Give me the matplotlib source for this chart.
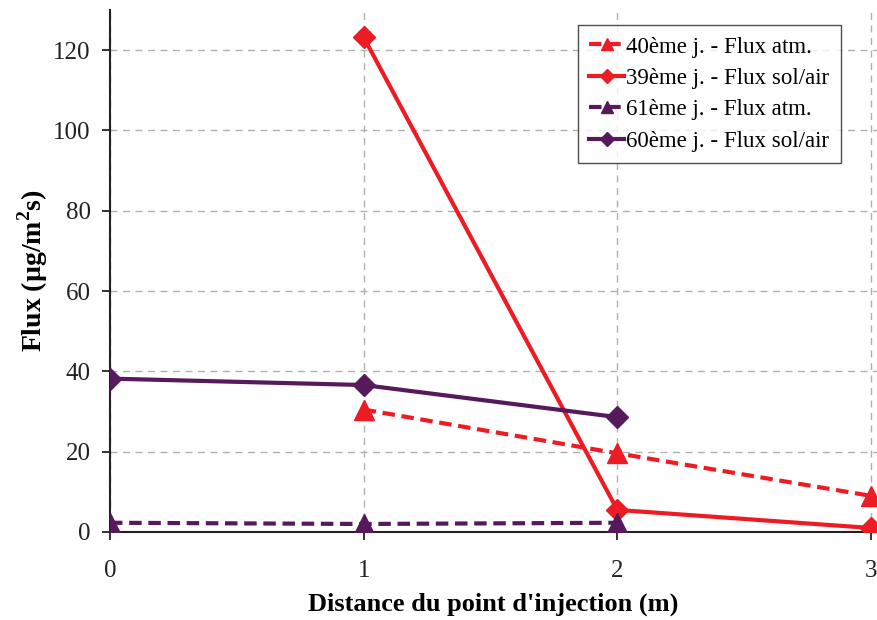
import matplotlib
matplotlib.use("Agg")
import matplotlib.pyplot as plt

plt.rcParams['font.family'] = ['Liberation Serif', 'DejaVu Serif']
plt.rcParams['mathtext.fontset'] = 'custom'
plt.rcParams['mathtext.rm'] = 'Liberation Serif'
plt.rcParams['mathtext.bf'] = 'Liberation Serif:bold'

x_40 = [1, 2, 3]
y_40_atm = [30.5, 19.6, 9.0]
x_39 = [1, 2, 3]
y_39_sol = [123.2, 5.5, 1.0]
x_61 = [0, 1, 2]
y_61_atm = [2.3, 2.0, 2.3]
x_60 = [0, 1, 2]
y_60_sol = [38.2, 36.6, 28.6]

labels = ["40ème j. - Flux atm.", "39ème j. - Flux sol/air",
          "61ème j. - Flux atm.", "60ème j. - Flux sol/air"]
xticks = [0, 1, 2, 3]
yticks = [0, 20, 40, 60, 80, 100, 120]

red = '#ED1C24'
purple = '#561A5C'

fig = plt.figure(figsize=(8.77, 6.2), dpi=100)
ax = fig.add_axes([110/877, 1-532/620, 1-110/877, (532-10)/620])

lw = 3.0
dash = (0, (3, 1.6))
ax.plot(x_40, y_40_atm, color=red, lw=lw, ls=dash, marker='^', ms=15, label=labels[0], zorder=3)
ax.plot(x_39, y_39_sol, color=red, lw=lw, ls='-', marker='D', ms=11.5, label=labels[1], zorder=3)
ax.plot(x_61, y_61_atm, color=purple, lw=lw, ls=dash, marker='^', ms=15, label=labels[2], zorder=3)
ax.plot(x_60, y_60_sol, color=purple, lw=lw, ls='-', marker='D', ms=11.5, label=labels[3], zorder=3)

ax.set_xlim(0, 3 * 767 / 761)
ax.set_ylim(0, 130)
ax.set_xticks(xticks)
ax.set_yticks(yticks)
ax.grid(True, color='#b0b0b0', ls=(0, (5, 4)), lw=1.0)
ax.set_axisbelow(True)
for s in ['top', 'right']:
    ax.spines[s].set_visible(False)
for s in ['left', 'bottom']:
    ax.spines[s].set_linewidth(1.5)
    ax.spines[s].set_color('#222222')
ax.tick_params(axis='both', direction='out', length=6, width=1.3, labelsize=18, colors='#222222')
ax.tick_params(axis='x', pad=14)
ax.tick_params(axis='y', pad=8)

ax.set_xlabel("Distance du point d'injection (m)", fontsize=19, fontweight='bold', labelpad=8)
ax.set_ylabel(r"Flux (µg/m$^\mathbf{2}$s)", fontsize=20, fontweight='bold')
ax.yaxis.set_label_coords(-(110 - 50) / 767, 0.5)

leg = fig.legend(loc='upper left', bbox_to_anchor=(578/877, 1 - 25/620),
                 fontsize=16.5, frameon=True, fancybox=False, edgecolor='#222222',
                 handlelength=1.5, borderpad=0.5, labelspacing=0.45, handletextpad=0.1,
                 borderaxespad=0, markerscale=0.6)
leg.get_frame().set_linewidth(1.0)

fig.savefig('out.png', dpi=100)
